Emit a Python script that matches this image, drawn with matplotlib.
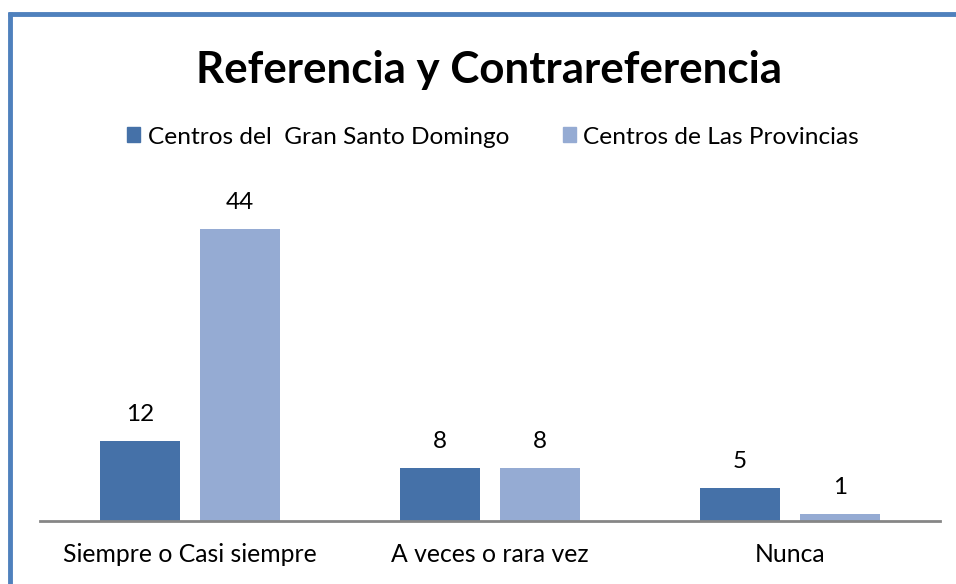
import matplotlib
matplotlib.use("Agg")
import matplotlib.pyplot as plt
from matplotlib.patches import Rectangle
from matplotlib.lines import Line2D
import numpy as np

categories = ["Siempre o Casi siempre", "A veces o rara vez", "Nunca"]
series_names = ["Centros del  Gran Santo Domingo", "Centros de Las Provincias"]
gran_sd = [12, 8, 5]
provincias = [44, 8, 1]
title = "Referencia y Contrareferencia"

c_dark = "#4571A8"
c_light = "#95ABD3"
border = "#4F81BD"

plt.rcParams['font.family'] = ['Lato', 'DejaVu Sans']

W, H = 956, 584
fig = plt.figure(figsize=(W / 100, H / 100), dpi=100)

# axes: x 40..940, y 180..521 (pixels from top)
ax = fig.add_axes([40 / W, (H - 521) / H, 900 / W, (521 - 180) / H])
x = np.arange(len(categories))
bw = 80 / 300
off = bw / 2 + 10 / 300
ax.bar(x - off, gran_sd, width=bw, color=c_dark, align='center')
ax.bar(x + off, provincias, width=bw, color=c_light, align='center')
ax.set_xlim(-0.5, 2.5)
ax.set_ylim(0, 341 / 6.636)
for s in ['top', 'right', 'left']:
    ax.spines[s].set_visible(False)
ax.spines['bottom'].set_color('#868686')
ax.spines['bottom'].set_linewidth(2)
ax.set_yticks([])
ax.set_xticks(x)
ax.set_xticklabels(categories, fontsize=17.8)
ax.tick_params(axis='x', length=0, pad=16)

for xi, v in zip(x, gran_sd):
    ax.annotate(str(v), (xi - off, v), xytext=(0, 19), textcoords='offset points',
                ha='center', va='center', fontsize=17.5)
for xi, v in zip(x, provincias):
    ax.annotate(str(v), (xi + off, v), xytext=(0, 19), textcoords='offset points',
                ha='center', va='center', fontsize=17.5)

fig.text(489 / W, 1 - 70 / H, title, ha='center', va='center', fontsize=31.6, fontweight='bold')

# legend
handles = [Rectangle((0, 0), 1, 1, color=c_dark), Rectangle((0, 0), 1, 1, color=c_light)]
leg = fig.legend(handles, series_names, loc='center', bbox_to_anchor=(493 / W, 1 - 137 / H),
                 ncol=2, frameon=False, fontsize=17.6, handlelength=0.55, handleheight=0.55,
                 handletextpad=0.3, columnspacing=2.2)

# border (left and top)
fig.add_artist(Line2D([10 / W, 10 / W], [0, 1 - 12 / H], transform=fig.transFigure,
                      color=border, linewidth=3.5, solid_capstyle='butt'))
fig.add_artist(Line2D([8 / W, 1], [1 - 13.5 / H, 1 - 13.5 / H], transform=fig.transFigure,
                      color=border, linewidth=3.5, solid_capstyle='butt'))

fig.savefig("out.png", dpi=100)
